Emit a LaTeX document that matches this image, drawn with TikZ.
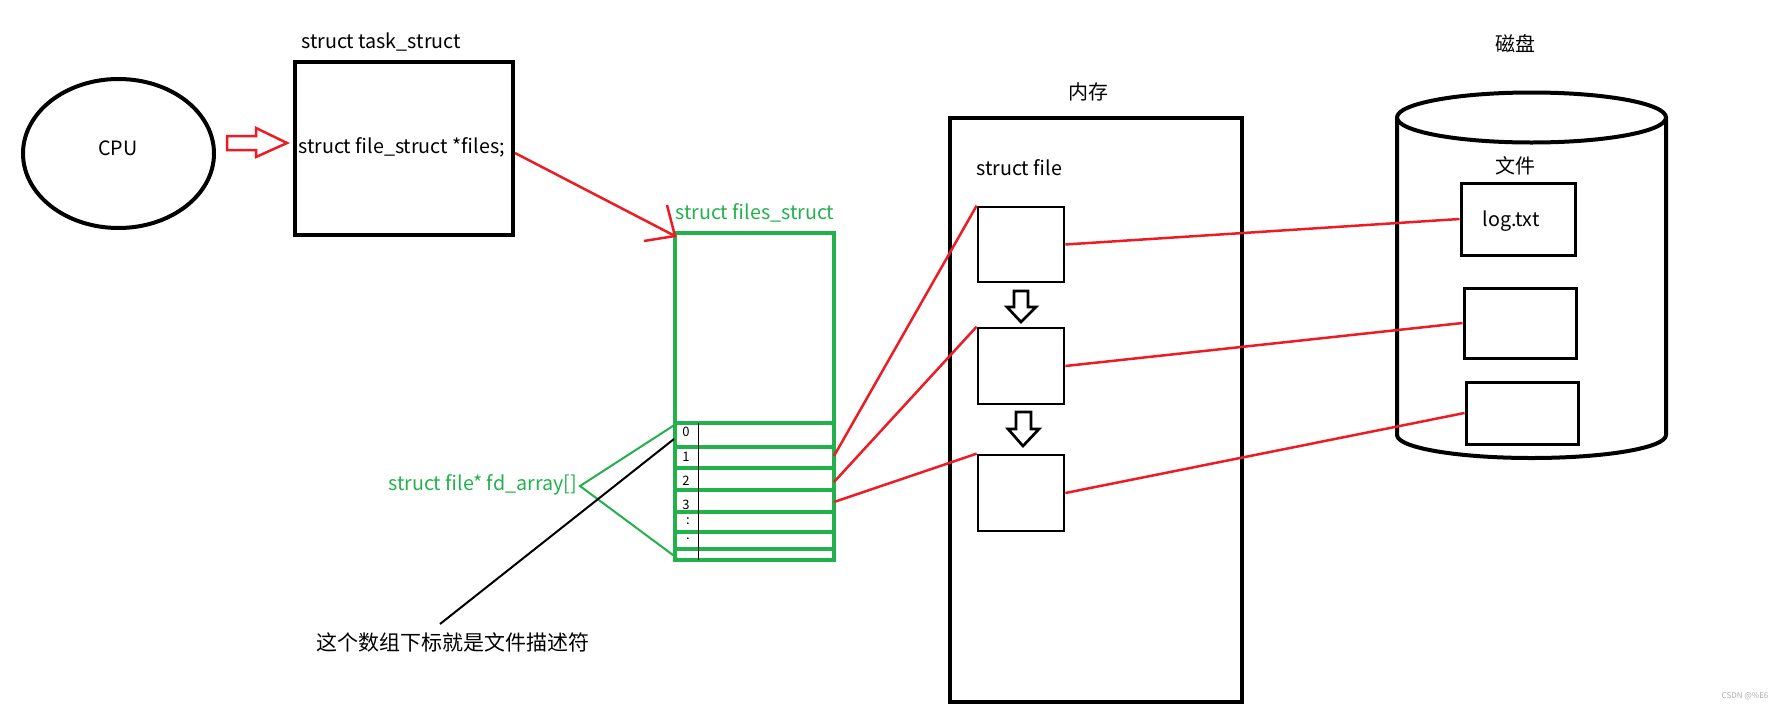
\documentclass[tikz,border=0pt]{standalone}
\usepackage{fontspec}
\setmainfont{Noto Sans CJK SC}
\usetikzlibrary{shapes.geometric}
\definecolor{pred}{HTML}{ED1C24}
\definecolor{pgreen}{HTML}{22B14C}
\definecolor{wmgray}{HTML}{AAAAAA}
\newcommand{\lat}{\fontsize{19.7}{23}\selectfont}
\newcommand{\cjkt}{\fontsize{20}{24}\selectfont}
\begin{document}
\begin{tikzpicture}[x=1pt,y=-1pt,
  txt/.style={inner sep=0pt, font=\lat},
  cjklabel/.style={inner sep=0pt, font=\cjkt},
  thickbox/.style={draw, line width=4pt, inner sep=0pt},
  smallbox/.style={draw, line width=2.7pt, inner sep=0pt, minimum width=86pt},
  diskbox/.style={draw, line width=3pt, inner sep=0pt},
  redline/.style={draw=pred, line width=2.5pt},
  greenline/.style={draw=pgreen, line width=2pt},
  gridline/.style={draw=pgreen, line width=4pt},
  hollowarrow/.style={draw, line width=2.7pt, line join=miter, fill=white},
  idx/.style={inner sep=0pt, font=\fontsize{13}{15}\selectfont}
]
\useasboundingbox (0,0) rectangle (1790,715);

% CPU
\node[ellipse, draw, line width=4pt, minimum width=191pt, minimum height=149pt, inner sep=0pt] (cpu) at (118.5,153.5) {};
\node[txt] (cpulab) at (118,148) {CPU};

% red hollow arrow CPU -> task
\draw[draw=pred, line width=2.5pt, line join=miter] (227,136) -- (256,136) -- (256,128) -- (287,143) -- (256,157) -- (256,150) -- (227,150) -- cycle;

% task_struct
\node[txt, anchor=west] (tasklab) at (301,42) {struct task\_struct};
\node[thickbox, minimum width=218pt, minimum height=173pt] (task) at (404,148.5) {};
\node[txt] (files) at (401.5,147) {struct file\_struct *files;};

% files_struct
\node[txt, anchor=west, text=pgreen] (fslab) at (675,213) {struct files\_struct};
\node[draw=pgreen, line width=4pt, minimum width=159pt, minimum height=327pt, inner sep=0pt] (fs) at (754.5,396.5) {};
\foreach \yy in {423,447,468,490,512,532,549}
  \draw[gridline] (fs.west |- 0,\yy) -- (fs.east |- 0,\yy);
\draw[line width=1pt] (698,423) -- (698,560);
\node[idx] (i0) at (686,432) {0};
\node[idx] (i1) at (686,457) {1};
\node[idx] (i2) at (686,481) {2};
\node[idx] (i3) at (686,505) {3};
\node[idx] (i4) at (688,521) {:};
\node[idx] (i5) at (688,539) {.};

% red arrow task -> files_struct
\coordinate (pstart) at (515,153);
\coordinate (ptip) at (675,236);
\coordinate (barbA) at (667,205);
\coordinate (barbB) at (644,241);
\draw[redline] (pstart) -- (ptip);
\draw[redline] (barbA) -- (ptip) -- (barbB);

% fd_array label
\node[txt, anchor=east, text=pgreen] (fdlab) at (577,485) {struct file* fd\_array[]};
\coordinate (fdv) at (580,486);
\coordinate (fdtop) at (676,424);
\coordinate (fdbot) at (677,558);
\draw[greenline] (fdtop) -- (fdv) -- (fdbot);

% caption
\node[inner sep=0pt, font=\fontsize{21}{25}\selectfont] (cap) at (452.5,642) {这个数组下标就是文件描述符};
\coordinate (capline) at (440,624);
\coordinate (idxline) at (674,439);
\draw[line width=2pt] (capline) -- (idxline);

% memory
\node[cjklabel] (memlab) at (1088,92) {内存};
\node[draw, line width=4.5pt, minimum width=292pt, minimum height=584pt, inner sep=0pt] (mem) at (1096,410) {};
\node[txt, anchor=west] (sflab) at (976,168) {struct file};
\node[smallbox, minimum height=75pt] (f1) at (1021,244.5) {};
\node[smallbox, minimum height=76pt] (f2) at (1021,366) {};
\node[smallbox, minimum height=76pt] (f3) at (1021,493) {};
% hollow down arrows
\draw[hollowarrow] (1014,291) -- (1028,291) -- (1028,307) -- (1036,307) -- (1021,322) -- (1007,307) -- (1014,307) -- cycle;
\draw[hollowarrow] (1016,412) -- (1031,412) -- (1031,429) -- (1039,429) -- (1023,446) -- (1008,429) -- (1016,429) -- cycle;

% fd -> struct file
\coordinate (fd1) at (834,456);
\coordinate (fd2) at (834,482);
\coordinate (fd3) at (834,502);
\draw[redline] (fd1) -- (f1.north west);
\draw[redline] (fd2) -- (f2.north west);
\draw[redline] (fd3) -- (f3.north west);

% disk
\node[cjklabel] (disklab) at (1515,44) {磁盘};
\draw[line width=4pt] (1397,117.5) -- (1397,435) arc[start angle=180, end angle=0, x radius=134.5, y radius=23] -- (1666,117.5);
\draw[line width=4pt] (1531.5,117.5) ellipse [x radius=134.5, y radius=25];
\node[cjklabel] (filelab) at (1515,166) {文件};
\node[diskbox, minimum width=114pt, minimum height=72pt] (d1) at (1518,219) {};
\node[txt] (logtxt) at (1511,221) {log.txt};
\node[diskbox, minimum width=112pt, minimum height=70pt] (d2) at (1520,323) {};
\node[diskbox, minimum width=112pt, minimum height=62pt] (d3) at (1522,413) {};

% struct file -> disk file
\draw[redline] (f1.east) -- (d1.west);
\draw[redline] (f2.east) -- (d2.west);
\draw[redline] (f3.east) -- (d3.west);

% watermark
\node[inner sep=0pt, text=wmgray, font=\fontsize{8}{9}\selectfont] (wm) at (1745,696) {CSDN @\%E6};
\end{tikzpicture}
\end{document}
